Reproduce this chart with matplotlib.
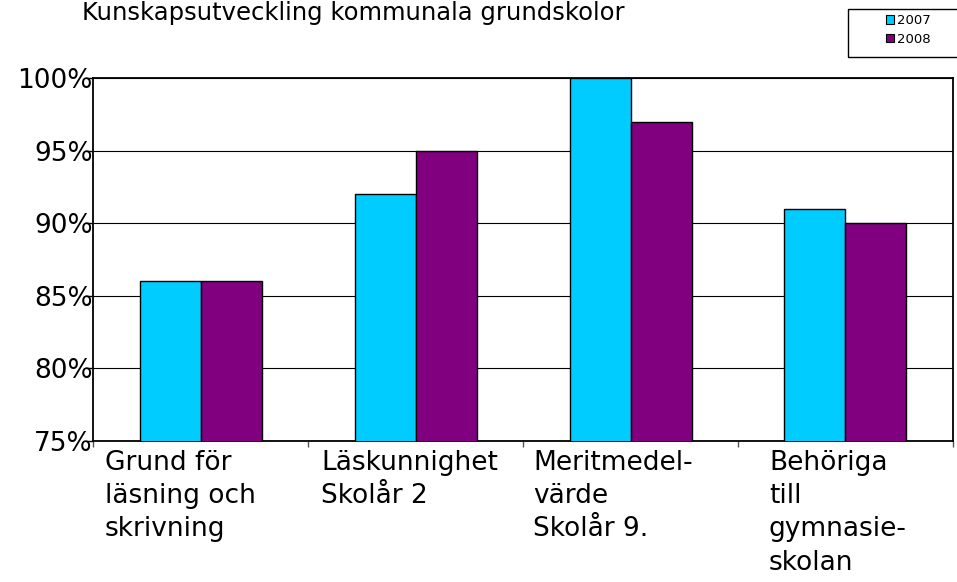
import matplotlib
matplotlib.use("Agg")
import matplotlib.pyplot as plt
from matplotlib.patches import Patch, Rectangle
import numpy as np

plt.rcParams['font.family'] = ['DejaVu Sans']

categories = ["Grund för\nläsning och\nskrivning", "Läskunnighet\nSkolår 2",
              "Meritmedel-\nvärde\nSkolår 9.", "Behöriga\ntill\ngymnasie-\nskolan"]
series_names = ["2007", "2008"]
values_2007 = [86, 92, 100, 91]
values_2008 = [86, 95, 97, 90]
yticks = [75, 80, 85, 90, 95, 100]
ytick_labels = ["75%", "80%", "85%", "90%", "95%", "100%"]
title = "Kunskapsutveckling kommunala grundskolor"

colors = ["#00CCFF", "#800080"]

W, H = 957, 582
fig = plt.figure(figsize=(W / 100, H / 100), dpi=100)
AX_L, AX_R, AX_T, AX_B = 93, 953, 78, 441
ax = fig.add_axes([AX_L / W, 1 - AX_B / H, (AX_R - AX_L) / W, (AX_B - AX_T) / H])
cat_px = (AX_R - AX_L) / len(categories)

x = np.arange(len(categories))
bw = 61 / cat_px
ax.bar(x - bw / 2, values_2007, width=bw, color=colors[0], edgecolor="black", linewidth=1.0, zorder=3)
ax.bar(x + bw / 2, values_2008, width=bw, color=colors[1], edgecolor="black", linewidth=1.0, zorder=3)

ax.set_xlim(-0.5, len(categories) - 0.5)
ax.set_ylim(75, 100)
ax.set_yticks(yticks)
ax.set_yticklabels(ytick_labels)
ax.yaxis.grid(True, color="black", linewidth=0.8, zorder=0)
ax.set_axisbelow(True)
ax.tick_params(axis="y", direction="out", length=5, width=1, pad=-5, labelsize=19)
ax.set_xticks([])
ax.set_xticks(np.arange(len(categories) + 1) - 0.5, minor=True)
ax.tick_params(axis="x", which="minor", direction="out", length=4, width=1,
               color="#555555", labelbottom=False)
for s in ax.spines.values():
    s.set_linewidth(1.3)
    s.set_color("black")

# category labels, left aligned
label_offsets_px = [12, 13, 10, 31]
for i, (lab, off) in enumerate(zip(categories, label_offsets_px)):
    xd = i - 0.5 + off / cat_px
    ax.text(xd, -9 / (AX_B - AX_T), lab, transform=ax.get_xaxis_transform(), ha="left", va="top",
            fontsize=19, linespacing=1.36)

fig.text(82 / W, 1 - 20 / H, title, ha="left", va="baseline", fontsize=17.5)

# legend frame
fig.patches.append(Rectangle((848 / W, 1 - 57 / H), (W + 5 - 848) / W, 48 / H,
                             transform=fig.transFigure, facecolor="white",
                             edgecolor="black", linewidth=1.0, zorder=1))
handles = [Patch(facecolor=c, edgecolor="black", linewidth=0.8) for c in colors]
leg = fig.legend(handles, series_names, loc="upper left", bbox_to_anchor=(886 / W, 1 - 14 / H),
                 fontsize=9.5, frameon=False, borderaxespad=0, borderpad=0,
                 handlelength=0.6, handleheight=0.6, handletextpad=0.25, labelspacing=0.45)
leg.set_zorder(2)

fig.savefig("out.png", dpi=100)
